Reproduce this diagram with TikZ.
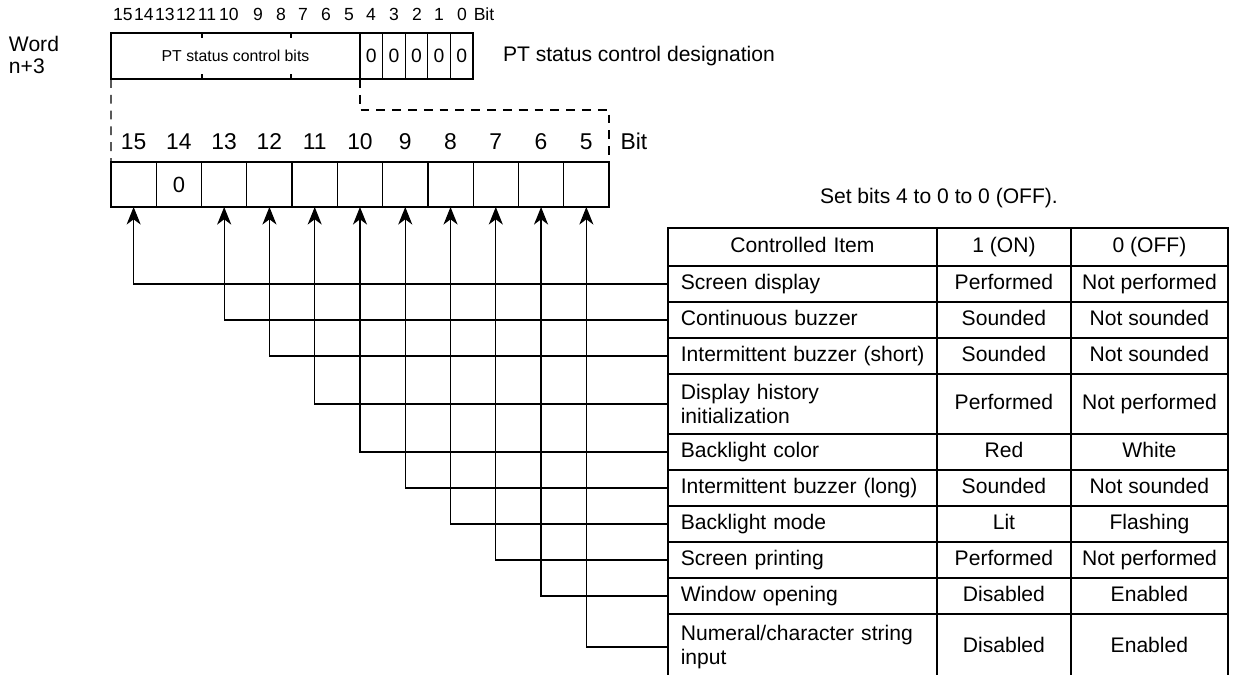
\documentclass[tikz,border=0pt]{standalone}
\usepackage{fontspec}
\setmainfont{Liberation Sans}
\usepackage{tikz}
\usetikzlibrary{arrows.meta}

\begin{document}
\begin{tikzpicture}[x=0.02cm, y=-0.02cm, line width=0.7pt,
    every node/.style={inner sep=0pt, outer sep=0pt},
    topnum/.style={font=\fontsize{10}{12}\selectfont, anchor=base},
    bitnum/.style={font=\fontsize{13}{15}\selectfont, anchor=base},
    bitcell/.style={draw, minimum width=0.9055cm, minimum height=0.9cm, font=\fontsize{12.5}{14}\selectfont},
    zerocell/.style={draw, minimum width=0.452cm, minimum height=0.92cm, font=\fontsize{11}{13}\selectfont},
    tabtext/.style={font=\fontsize{12}{14}\selectfont},
    oneline/.style={text height=8.6pt, text depth=2.6pt},
    twoline/.style={},
    itemcell/.style={tabtext, draw, anchor=north west, minimum width=5.38cm, text width=138.5pt, inner xsep=7pt, align=left},
    oncell/.style={tabtext, oneline, draw, anchor=north west, minimum width=2.68cm, align=center},
    offcell/.style={tabtext, oneline, draw, anchor=north west, minimum width=3.14cm, align=center},
    bitarrow/.style={-{Stealth[length=10pt, width=8pt, inset=3pt]}},
    dashline/.style={dash pattern=on 5pt off 4pt, line width=0.6pt}]
  \useasboundingbox (0,0) rectangle (1234,675);

  % word n+3
  \node[tabtext, anchor=west, align=left, font=\fontsize{12}{13}\selectfont] (word) at (9,55) {Word\\n+3};
  \foreach \b/\x in {15/123,14/144,13/165,12/186,11/207,10/229,9/258,8/281,7/303,6/326,5/349,4/371,3/394,2/417,1/439,0/462}
    \node[topnum] (t\b) at (\x,21) {\b};
  \node[topnum] (tbit) at (484,21) {Bit};
  \node[draw, minimum width=4.98cm, minimum height=0.92cm, font=\fontsize{9}{11}\selectfont] (ptbits) at (235.5,56) {PT status control bits};
  \foreach \b [count=\i from 0] in {4,...,0}
    \node[zerocell] (z\b) at ({360+22.6*(\i+0.5)},56) {0};
  \draw (202,33) -- ++(0,5) (202,79) -- ++(0,-5);
  \draw (291,33) -- ++(0,5) (291,79) -- ++(0,-5);
  \node[tabtext, anchor=west] (desig) at (503,56) {PT status control designation};

  % bits 15 to 5
  \foreach \b [count=\i from 0] in {15,...,5} {
    \node[bitcell] (b\b) at ({111+45.27*(\i+0.5)},184.5) {};
    \node[bitnum] (n\b) at (b\b |- 0,150) {\b};
  }
  \node at (b14) {\fontsize{12.5}{14}\selectfont 0};
  \node[bitnum] (nbit) at (634,150) {Bit};
  \draw[dashline] (ptbits.south west) -- (b15.north west);
  \draw[dashline] (ptbits.south east) -- ++(0,31) -| (b5.north east);

  \node[tabtext, anchor=base west] (note) at (820,204) {Set bits 4 to 0 to 0 (OFF).};

  % table
  \node[itemcell, oneline, align=center, minimum height=0.76cm] (head1) at (668,228) {Controlled Item};
  \node[oncell, minimum height=0.76cm] (head2) at (head1.north east) {1 (ON)};
  \node[offcell, minimum height=0.76cm] (head3) at (head2.north east) {0 (OFF)};
  \foreach \n/\t/\h/\s/\item/\on/\off in {
      1/266/36/oneline/Screen display/Performed/Not performed,
      2/302/36/oneline/Continuous buzzer/Sounded/Not sounded,
      3/338/36/oneline/{\mbox{Intermittent buzzer (short)}}/Sounded/Not sounded,
      4/374/60/twoline/{Display history\\initialization}/Performed/Not performed,
      5/434/36/oneline/Backlight color/Red/White,
      6/470/36/oneline/Intermittent buzzer (long)/Sounded/Not sounded,
      7/506/36/oneline/Backlight mode/Lit/Flashing,
      8/542/36/oneline/Screen printing/Performed/Not performed,
      9/578/36/oneline/Window opening/Disabled/Enabled,
      10/614/66/twoline/{Numeral/character string\\input}/Disabled/Enabled} {
    \node[itemcell, \s, minimum height=\h*0.02cm] (item\n) at (668,\t) {\item};
    \node[oncell, minimum height=\h*0.02cm] (on\n) at (item\n.north east) {\on};
    \node[offcell, minimum height=\h*0.02cm] (off\n) at (on\n.north east) {\off};
  }

  % connectors
  \foreach \n/\b in {1/15,2/13,3/12,4/11,5/10,6/9,7/8,8/7,9/6,10/5}
    \draw[bitarrow] (item\n.west) -| (b\b.south);
\end{tikzpicture}
\end{document}
